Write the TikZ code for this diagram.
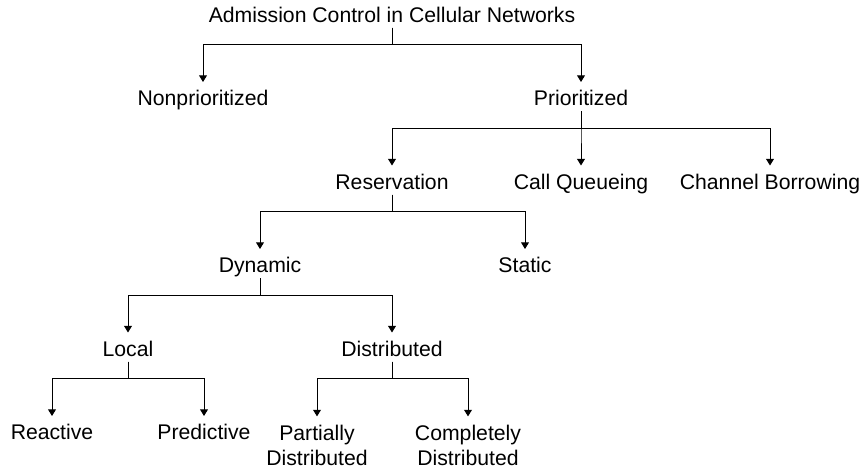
\documentclass[tikz,border=0pt]{standalone}
\usepackage{fontspec}
\setmainfont{Liberation Sans}
\usetikzlibrary{arrows.meta}

\begin{document}
\begin{tikzpicture}[
  x=0.5pt, y=-0.5pt,
  font=\fontsize{10.6}{12.5}\selectfont,
  lbl/.style={inner sep=0pt, outer xsep=0pt, outer ysep=2.7pt,
              text height=7.6pt, text depth=0pt},
  lbltwo/.style={inner sep=0pt, outer xsep=0pt, outer ysep=2.7pt,
                 align=center, anchor=north},
  arr/.style={-{Triangle[length=3.3pt, width=3.9pt]}, draw=black,
              line width=0.5pt, shorten >=1.5pt}
]
\useasboundingbox (0,0) rectangle (862,468);

% top levels
\node[lbl] (root)   at (392, 14.5) {Admission Control in Cellular Networks};
\node[lbl] (nonpri) at (203, 98)   {Nonprioritized};
\node[lbl] (pri)    at (581, 98)   {Prioritized};

% prioritized schemes
\node[lbl] (res)   at (392, 181.5) {Reservation};
\node[lbl] (callq) at (581, 181.5) {Call Queueing};
\node[lbl] (chanb) at (770, 181.5) {Channel Borrowing};

% reservation
\node[lbl] (dyn)  at (260, 265) {Dynamic};
\node[lbl] (stat) at (525, 265) {Static};

% dynamic
\node[lbl] (local) at (128, 348.5) {Local};
\node[lbl] (distr) at (392, 348.5) {Distributed};

% leaves
\node[lbl] (react) at (52, 432)  {Reactive};
\node[lbl] (pred)  at (204, 432) {Predictive};
\node[lbltwo] (partd) at (317, 419.4) {Partially\\Distributed};
\node[lbltwo] (compd) at (468, 419.4) {Completely\\Distributed};

% connectors
\draw[arr] (root.south) -- ++(0,17) -| (nonpri.north);
\draw[arr] (root.south) -- ++(0,17) -| (pri.north);
\draw[arr] (pri.south) -- ++(0,17) -| (res.north);
\draw[arr] (pri.south) -- ++(0,17) -| (callq.north);
\draw[arr] (pri.south) -- ++(0,17) -| (chanb.north);
\draw[arr] (res.south) -- ++(0,17) -| (dyn.north);
\draw[arr] (res.south) -- ++(0,17) -| (stat.north);
\draw[arr] (dyn.south) -- ++(0,17) -| (local.north);
\draw[arr] (dyn.south) -- ++(0,17) -| (distr.north);
\draw[arr] (local.south) -- ++(0,17) -| (react.north);
\draw[arr] (local.south) -- ++(0,17) -| (pred.north);
\draw[arr] (distr.south) -- ++(0,17) -| (partd.north);
\draw[arr] (distr.south) -- ++(0,17) -| (compd.north);
\end{tikzpicture}
\end{document}
